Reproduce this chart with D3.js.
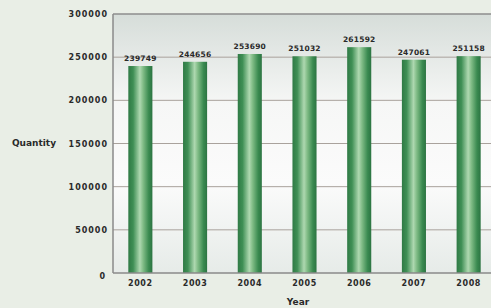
<!DOCTYPE html>
<html lang="en">
<head>
  <meta charset="UTF-8">
  <title>Quantity by Year</title>
  <script src="https://d3js.org/d3.v7.min.js"></script>
  <style>
    body { margin: 0; background: #e9eee6; overflow: hidden; }
    text { font-family: "DejaVu Sans", sans-serif; font-weight: bold; fill: #2a2a2a; }
  </style>
</head>
<body>
<div id="chart"></div>
<script>
  // Data
  const years = ["2002", "2003", "2004", "2005", "2006", "2007", "2008"];
  const quantities = [239749, 244656, 253690, 251032, 261592, 247061, 251158];
  const yTicks = [0, 50000, 100000, 150000, 200000, 250000, 300000];

  const width = 491, height = 308;
  const plot = { left: 113, right: 496, top: 14, bottom: 273 };

  const svg = d3.select("#chart").append("svg")
    .attr("width", width)
    .attr("height", height);

  const defs = svg.append("defs");

  // plot background: grey at top, fading to white
  const bg = defs.append("linearGradient")
    .attr("id", "plotBg")
    .attr("x1", 0).attr("y1", 0).attr("x2", 0).attr("y2", 1);
  bg.append("stop").attr("offset", "0%").attr("stop-color", "#d6ddd9");
  bg.append("stop").attr("offset", "35%").attr("stop-color", "#f6f7f6");
  bg.append("stop").attr("offset", "65%").attr("stop-color", "#fbfbfb");
  bg.append("stop").attr("offset", "100%").attr("stop-color", "#e6ebe8");

  // cylinder look for the bars
  const barGrad = defs.append("linearGradient")
    .attr("id", "barGrad")
    .attr("x1", 0).attr("y1", 0).attr("x2", 1).attr("y2", 0);
  barGrad.append("stop").attr("offset", "0%").attr("stop-color", "#2f7a45");
  barGrad.append("stop").attr("offset", "20%").attr("stop-color", "#3f8f55");
  barGrad.append("stop").attr("offset", "48%").attr("stop-color", "#aed8b0");
  barGrad.append("stop").attr("offset", "62%").attr("stop-color", "#7fbb85");
  barGrad.append("stop").attr("offset", "85%").attr("stop-color", "#3a8a50");
  barGrad.append("stop").attr("offset", "100%").attr("stop-color", "#2c7442");

  const x = d3.scaleBand()
    .domain(years)
    .range([plot.left, plot.right])
    .paddingInner(0.56)
    .paddingOuter(0.28);

  const y = d3.scaleLinear()
    .domain([0, 300000])
    .range([plot.bottom, plot.top]);

  // plot area
  svg.append("rect")
    .attr("x", plot.left)
    .attr("y", plot.top)
    .attr("width", plot.right - plot.left)
    .attr("height", plot.bottom - plot.top)
    .attr("fill", "url(#plotBg)");

  // gridlines
  svg.selectAll(".grid")
    .data(yTicks.filter(d => d > 0))
    .join("line")
    .attr("class", "grid")
    .attr("x1", plot.left)
    .attr("x2", plot.right)
    .attr("y1", d => y(d))
    .attr("y2", d => y(d))
    .attr("stroke", d => d === 300000 ? "#8d8d8d" : "#a9a29c")
    .attr("stroke-width", d => d === 300000 ? 1.5 : 1);

  // bars
  svg.selectAll(".bar")
    .data(years)
    .join("rect")
    .attr("class", "bar")
    .attr("x", d => x(d))
    .attr("width", x.bandwidth())
    .attr("y", (d, i) => y(quantities[i]))
    .attr("height", (d, i) => y(0) - y(quantities[i]))
    .attr("fill", "url(#barGrad)");

  // value labels
  svg.selectAll(".val")
    .data(years)
    .join("text")
    .attr("class", "val")
    .attr("x", d => x(d) + x.bandwidth() / 2)
    .attr("y", (d, i) => y(quantities[i]) - 5)
    .attr("text-anchor", "middle")
    .style("font-size", "7.5px")
    .style("letter-spacing", "0.2px")
    .text((d, i) => quantities[i]);

  // axes lines
  svg.append("line")
    .attr("x1", plot.left).attr("x2", plot.left)
    .attr("y1", plot.top).attr("y2", plot.bottom)
    .attr("stroke", "#8a8a8a").attr("stroke-width", 1.5);
  svg.append("line")
    .attr("x1", plot.left).attr("x2", plot.right)
    .attr("y1", plot.bottom).attr("y2", plot.bottom)
    .attr("stroke", "#8a8a8a").attr("stroke-width", 1.5);

  // y tick labels
  svg.selectAll(".ytick")
    .data(yTicks)
    .join("text")
    .attr("class", "ytick")
    .attr("x", d => d === 0 ? 106 : 108)
    .attr("y", d => y(d) + (d === 0 ? 6 : 3))
    .attr("text-anchor", "end")
    .style("font-size", "8px")
    .style("letter-spacing", "1px")
    .text(d => d);

  // x tick labels
  svg.selectAll(".xtick")
    .data(years)
    .join("text")
    .attr("class", "xtick")
    .attr("x", d => x(d) + x.bandwidth() / 2)
    .attr("y", 286)
    .attr("text-anchor", "middle")
    .style("font-size", "8px")
    .style("letter-spacing", "0.6px")
    .text(d => d);

  // axis titles
  svg.append("text")
    .attr("x", 34)
    .attr("y", 146)
    .attr("text-anchor", "middle")
    .style("font-size", "9px")
    .text("Quantity");

  svg.append("text")
    .attr("x", 298)
    .attr("y", 305)
    .attr("text-anchor", "middle")
    .style("font-size", "9px")
    .text("Year");
</script>
</body>
</html>
